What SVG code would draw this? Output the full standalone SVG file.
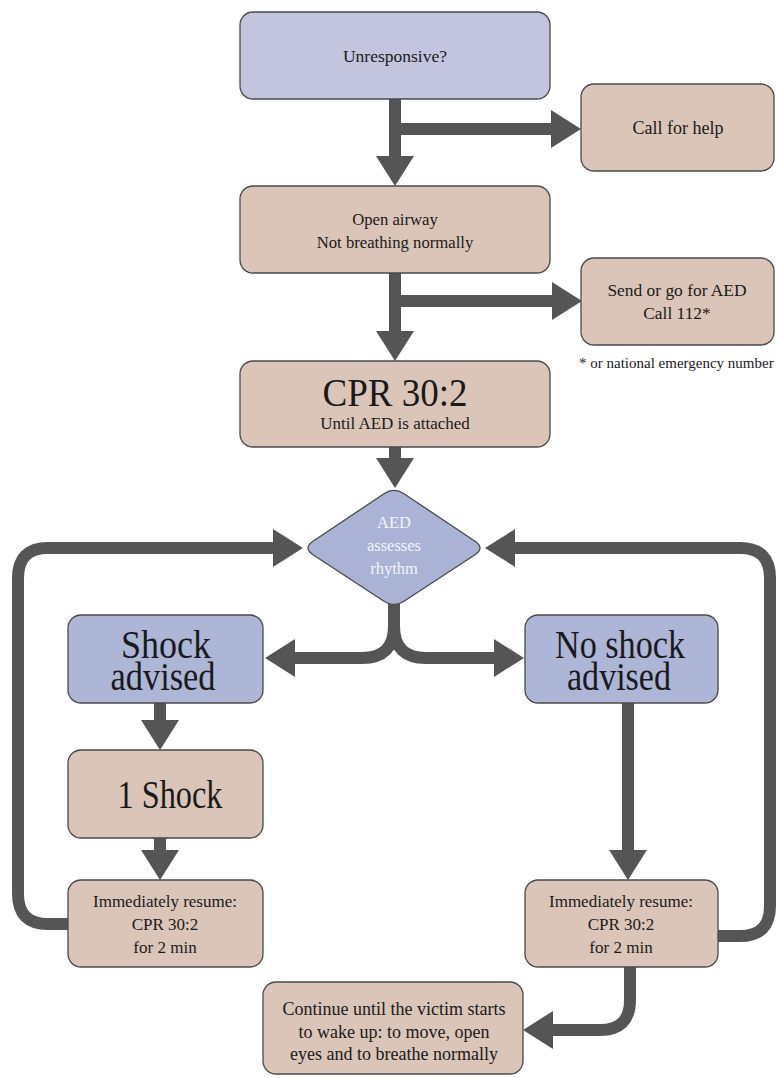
<svg xmlns="http://www.w3.org/2000/svg" width="777" height="1078" viewBox="0 0 777 1078">
<style>
.box{stroke:#4a4a4a;stroke-width:1.3}
.blue{fill:#c2c5dd}
.blue2{fill:#aeb6d8}
.tan{fill:#dbc5b9}
.t{fill:#1a1a1a;text-anchor:middle}
.s{font-size:17px}
.b{font-size:40px}
.w{fill:#f4f4fa}
.c{fill:none;stroke:#555;stroke-width:12}
</style>
<defs>
<marker id="ah" markerUnits="userSpaceOnUse" markerWidth="32" markerHeight="38" refX="0" refY="19" orient="auto">
<path d="M0,0 L30,19 L0,38 z" fill="#555"/>
</marker>
</defs>
<rect width="777" height="1078" fill="#fff"/>
<g id="connectors">
<path class="c" d="M395,99 V156" marker-end="url(#ah)"/>
<path class="c" d="M395,129 H551" marker-end="url(#ah)"/>
<path class="c" d="M395,273 V331" marker-end="url(#ah)"/>
<path class="c" d="M395,301 H552" marker-end="url(#ah)"/>
<path class="c" d="M395,447 V458" marker-end="url(#ah)"/>
<path class="c" d="M394,604 V626 Q394,658 362,658 H295" marker-end="url(#ah)"/>
<path class="c" d="M394,604 V626 Q394,658 426,658 H494" marker-end="url(#ah)"/>
<path class="c" d="M160,703 V720" marker-end="url(#ah)"/>
<path class="c" d="M160,838 V850" marker-end="url(#ah)"/>
<path class="c" d="M628,703 V850" marker-end="url(#ah)"/>
<path class="c" d="M70,924 H48 Q18,924 18,894 V578 Q18,548 48,548 H273" marker-end="url(#ah)"/>
<path class="c" d="M716,936 H740 Q770,936 770,906 V578 Q770,548 740,548 H515" marker-end="url(#ah)"/>
<path class="c" d="M630,966 V1000 Q630,1030 600,1030 H553" marker-end="url(#ah)"/>
</g>
<g font-family="Liberation Serif, DejaVu Serif, Times New Roman, serif">
<g id="unresponsive">
<rect class="box blue" x="240" y="12" width="310" height="87" rx="13"/>
<text class="t s" x="395" y="62" style="font-size:17.5px">Unresponsive?</text>
</g>
<g id="call-help">
<rect class="box tan" x="581" y="84" width="193" height="87" rx="13"/>
<text class="t s" x="678" y="134" style="font-size:18px">Call for help</text>
</g>
<g id="open-airway">
<rect class="box tan" x="240" y="186" width="310" height="87" rx="13"/>
<text class="t s" x="395" y="225" style="font-size:16.7px"><tspan x="395">Open airway</tspan><tspan x="395" dy="23">Not breathing normally</tspan></text>
</g>
<g id="send-aed">
<rect class="box tan" x="581" y="258" width="193" height="87" rx="13"/>
<text class="t s" x="677" y="296" style="font-size:17.4px"><tspan x="677">Send or go for AED</tspan><tspan x="677" dy="23">Call 112*</tspan></text>
</g>
<g id="footnote">
<text class="t" style="font-size:15px;text-anchor:start" x="579" y="368">* or national emergency number</text>
</g>
<g id="cpr">
<rect class="box tan" x="240" y="361" width="310" height="86" rx="13"/>
<text class="t b" x="395" y="406" textLength="145" lengthAdjust="spacingAndGlyphs">CPR 30:2</text>
<text class="t s" x="395" y="429">Until AED is attached</text>
</g>
<g id="aed-assesses">
<path class="box" fill="#aab3d5" d="M404,493.7 L475,541.3 Q485,548 475,554.7 L404,601.3 Q394,608 384,601.3 L313,554.7 Q303,548 313,541.3 L384,493.7 Q394,487 404,493.7 Z"/>
<text class="t w" x="394" y="528" style="font-size:16.5px"><tspan x="394">AED</tspan><tspan x="394" dy="23">assesses</tspan><tspan x="394" dy="23">rhythm</tspan></text>
</g>
<g id="shock-advised">
<rect class="box blue2" x="68" y="615" width="195" height="88" rx="13"/>
<text class="t b" x="166" y="658"><tspan x="166" textLength="90" lengthAdjust="spacingAndGlyphs">Shock</tspan><tspan x="163" dy="32" textLength="105" lengthAdjust="spacingAndGlyphs">advised</tspan></text>
</g>
<g id="no-shock-advised">
<rect class="box blue2" x="525" y="615" width="193" height="88" rx="13"/>
<text class="t b" x="620" y="658"><tspan x="620" textLength="130" lengthAdjust="spacingAndGlyphs">No shock</tspan><tspan x="619" dy="32" textLength="104" lengthAdjust="spacingAndGlyphs">advised</tspan></text>
</g>
<g id="one-shock">
<rect class="box tan" x="68" y="750" width="195" height="88" rx="13"/>
<text class="t b" x="170" y="808" textLength="105" lengthAdjust="spacingAndGlyphs">1 Shock</text>
</g>
<g id="resume-left">
<rect class="box tan" x="68" y="880" width="195" height="87" rx="13"/>
<text class="t s" x="165" y="907"><tspan x="165">Immediately resume:</tspan><tspan x="165" dy="23">CPR 30:2</tspan><tspan x="165" dy="23">for 2 min</tspan></text>
</g>
<g id="resume-right">
<rect class="box tan" x="525" y="880" width="193" height="87" rx="13"/>
<text class="t s" x="621" y="907"><tspan x="621">Immediately resume:</tspan><tspan x="621" dy="23">CPR 30:2</tspan><tspan x="621" dy="23">for 2 min</tspan></text>
</g>
<g id="continue">
<rect class="box tan" x="263" y="982" width="260" height="92" rx="13"/>
<text class="t s" x="394" y="1015" style="font-size:18px"><tspan x="394">Continue until the victim starts</tspan><tspan x="394" dy="22.5">to wake up: to move, open</tspan><tspan x="394" dy="22.5">eyes and to breathe normally</tspan></text>
</g>
</g>
</svg>
